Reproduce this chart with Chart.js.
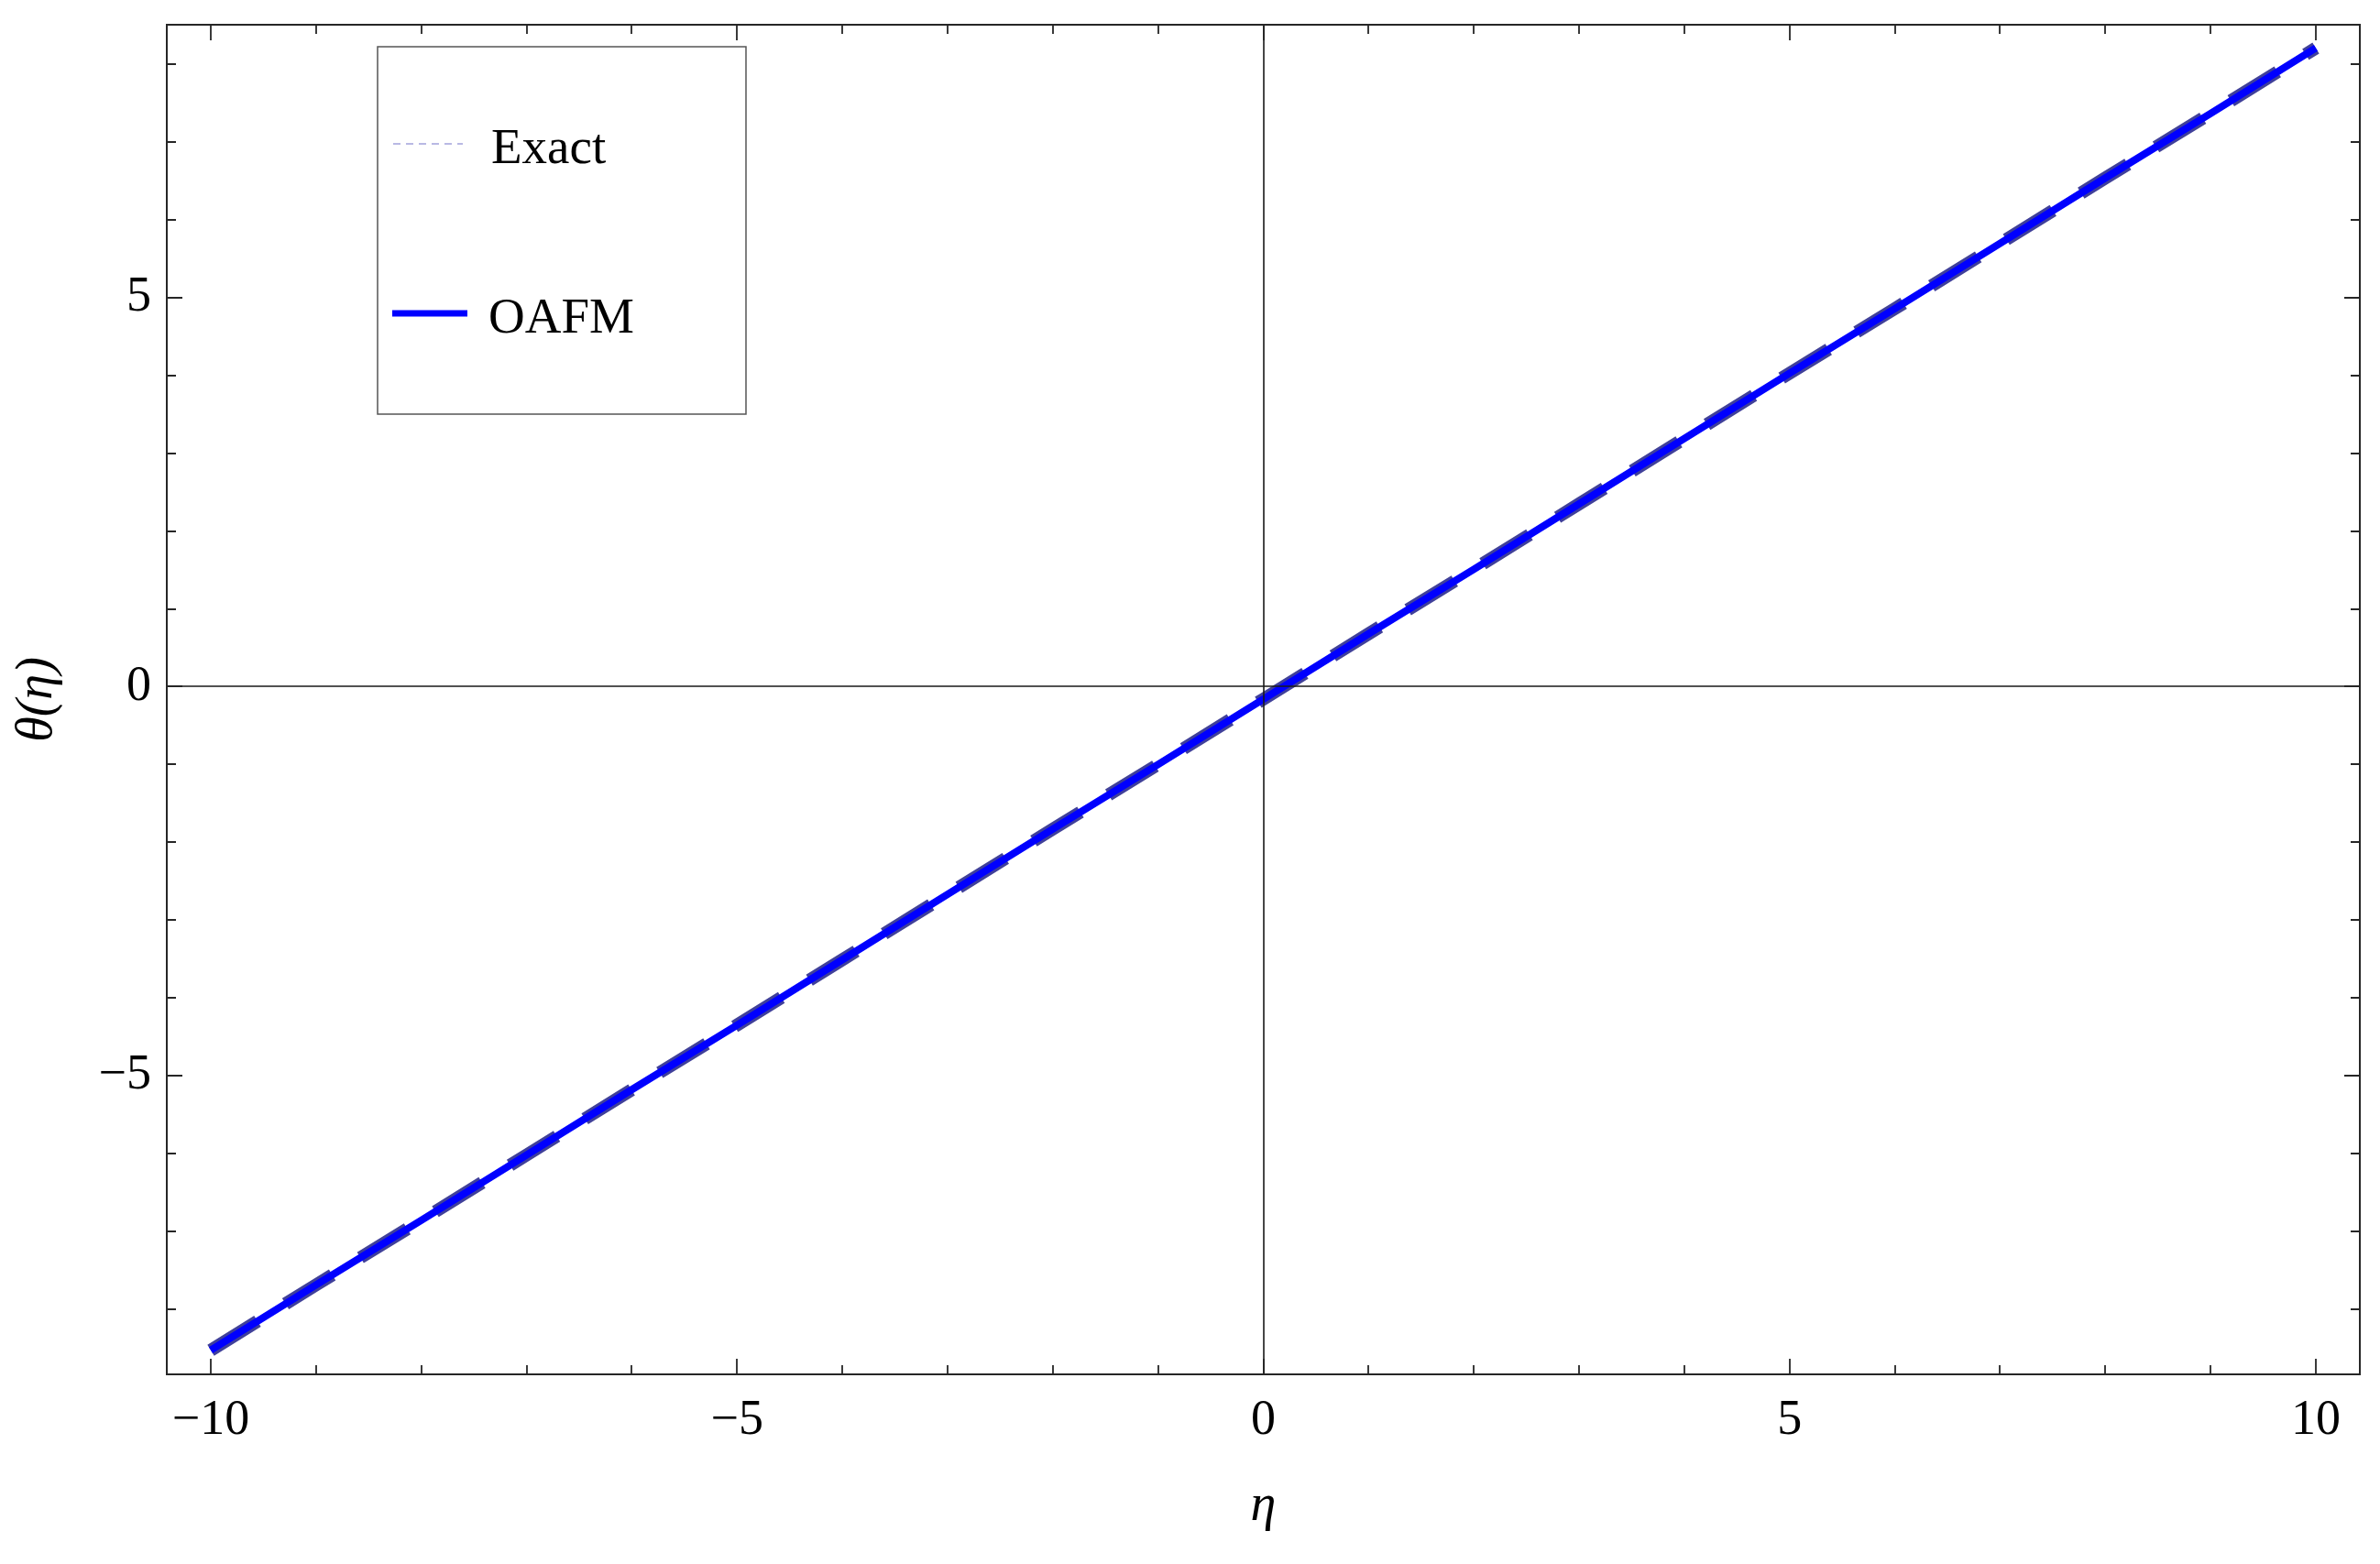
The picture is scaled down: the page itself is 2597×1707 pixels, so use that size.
<!DOCTYPE html>
<html><head><meta charset="utf-8">
<script src="https://cdn.jsdelivr.net/npm/chart.js@4.4.0/dist/chart.umd.min.js"></script>
<style>html,body{margin:0;padding:0;background:#fff;overflow:hidden}#wrap{width:2597px;height:1707px;position:relative}</style>
</head><body><div id="wrap"><canvas id="c" width="2597" height="1707"></canvas></div>
<script>
// ---- data ----
const etaValues   = [-10, -9, -8, -7, -6, -5, -4, -3, -2, -1, 0, 1, 2, 3, 4, 5, 6, 7, 8, 9, 10];
const exactValues = [-8.53, -7.69, -6.86, -6.02, -5.18, -4.35, -3.51, -2.67, -1.83, -1.00, -0.16,
                     0.68, 1.51, 2.35, 3.19, 4.03, 4.86, 5.70, 6.54, 7.37, 8.21];
const oafmValues  = [-8.53, -7.69, -6.86, -6.02, -5.18, -4.35, -3.51, -2.67, -1.83, -1.00, -0.16,
                     0.68, 1.51, 2.35, 3.19, 4.03, 4.86, 5.70, 6.54, 7.37, 8.21];
const seriesLabels = ['Exact', 'OAFM'];
const xTickLabels = [-10, -5, 0, 5, 10];
const yTickLabels = [-5, 0, 5];
const xTitle = 'η';
const yTitle = 'θ(η)';

const SERIF = "'Liberation Serif', 'Times New Roman', serif";
const toPts = (xs, ys) => xs.map((x, i) => ({x: x, y: ys[i]}));
const fmt = v => String(v).replace('-', '\u2212');

const framePlugin = {
  id: 'mmaFrame',
  afterDatasetsDraw(chart) {
    const ctx = chart.ctx, a = chart.chartArea;
    const xs = chart.scales.x, ys = chart.scales.y;
    ctx.save();
    // axes through origin
    ctx.strokeStyle = '#1a1a1a';
    ctx.lineWidth = 1.6;
    const x0 = Math.round(xs.getPixelForValue(0)), y0 = Math.round(ys.getPixelForValue(0));
    ctx.beginPath();
    ctx.moveTo(x0, a.top); ctx.lineTo(x0, a.bottom);
    ctx.moveTo(a.left, y0); ctx.lineTo(a.right, y0);
    ctx.stroke();
    // frame
    ctx.strokeStyle = '#262626';
    ctx.lineWidth = 2;
    ctx.strokeRect(a.left, a.top, a.right - a.left, a.bottom - a.top);
    // inward ticks
    ctx.lineWidth = 1.8;
    ctx.beginPath();
    for (let v = Math.ceil(xs.min); v <= Math.floor(xs.max); v++) {
      const p = Math.round(xs.getPixelForValue(v));
      const L = (v % 5 === 0) ? 17 : 10;
      ctx.moveTo(p, a.bottom); ctx.lineTo(p, a.bottom - L);
      ctx.moveTo(p, a.top); ctx.lineTo(p, a.top + L);
    }
    for (let v = Math.ceil(ys.min); v <= Math.floor(ys.max); v++) {
      const p = Math.round(ys.getPixelForValue(v));
      const L = (v % 5 === 0) ? 17 : 10;
      ctx.moveTo(a.left, p); ctx.lineTo(a.left + L, p);
      ctx.moveTo(a.right, p); ctx.lineTo(a.right - L, p);
    }
    ctx.stroke();

    // legend box
    const bx = 412, by = 51, bw = 402, bh = 401;
    ctx.fillStyle = '#ffffff';
    ctx.fillRect(bx, by, bw, bh);
    ctx.strokeStyle = '#555555';
    ctx.lineWidth = 1.5;
    ctx.strokeRect(bx, by, bw, bh);
    const ds = chart.data.datasets;
    // Exact entry
    ctx.strokeStyle = '#a3a3dc';
    ctx.lineWidth = 1.6;
    ctx.setLineDash([8, 6]);
    ctx.beginPath(); ctx.moveTo(429, 157); ctx.lineTo(505, 157); ctx.stroke();
    ctx.setLineDash([]);
    // OAFM entry
    ctx.strokeStyle = '#0000ff';
    ctx.lineWidth = 7;
    ctx.beginPath(); ctx.moveTo(428, 342); ctx.lineTo(510, 342); ctx.stroke();
    ctx.fillStyle = '#000000';
    ctx.font = '55px ' + SERIF;
    ctx.textBaseline = 'alphabetic';
    ctx.textAlign = 'left';
    ctx.fillText(ds[0].label, 536, 178);
    ctx.fillText(ds[1].label, 533, 363);
    ctx.restore();
  }
};

new Chart(document.getElementById('c'), {
  type: 'scatter',
  data: {
    datasets: [
      {
        label: seriesLabels[0],
        data: toPts(etaValues, exactValues),
        showLine: true,
        borderColor: '#40409a',
        borderWidth: 14,
        borderDash: [60, 36],
        borderCapStyle: 'butt',
        pointRadius: 0,
        tension: 0,
        order: 1
      },
      {
        label: seriesLabels[1],
        data: toPts(etaValues, oafmValues),
        showLine: true,
        borderColor: '#0000ff',
        borderWidth: 8,
        pointRadius: 0,
        tension: 0,
        order: 0
      }
    ]
  },
  options: {
    responsive: false,
    devicePixelRatio: 1,
    animation: false,
    events: [],
    layout: { padding: { top: 27, right: 22, left: 0, bottom: 0 } },
    plugins: { legend: { display: false }, tooltip: { enabled: false } },
    scales: {
      x: {
        type: 'linear',
        min: -10.418, max: 10.418,
        grid: { display: false, drawTicks: false },
        border: { display: false },
        ticks: {
          stepSize: 1, includeBounds: false, autoSkip: false, maxRotation: 0,
          padding: 18, color: '#000',
          font: { family: SERIF, size: 54 },
          callback: v => xTickLabels.includes(v) ? fmt(v) : ''
        },
        title: {
          display: true, text: xTitle, color: '#000',
          font: { family: SERIF, size: 56, style: 'italic' },
          padding: { top: 0, bottom: 29 }
        },
        afterFit: s => { s.height = 207; s.paddingLeft = 0; s.paddingRight = 0; }
      },
      y: {
        type: 'linear',
        min: -8.84, max: 8.51,
        grid: { display: false, drawTicks: false },
        border: { display: false },
        ticks: {
          stepSize: 1, includeBounds: false, autoSkip: false,
          padding: 17, color: '#000',
          font: { family: SERIF, size: 54 },
          callback: v => yTickLabels.includes(v) ? fmt(v) : ''
        },
        title: {
          display: true, text: yTitle, color: '#000',
          font: { family: SERIF, size: 56, style: 'italic' },
          padding: { top: 8, bottom: 0 }
        },
        afterFit: s => { s.width = 182; s.paddingTop = 0; s.paddingBottom = 0; }
      }
    }
  },
  plugins: [framePlugin]
});
</script>
</body></html>
